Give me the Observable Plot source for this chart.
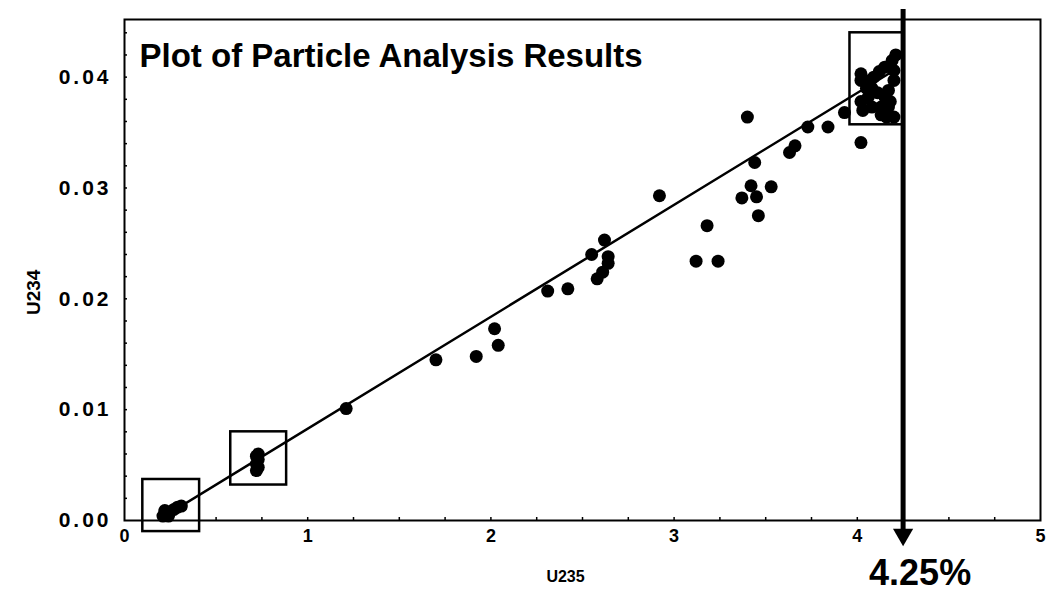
<!DOCTYPE html>
<html>
<head>
<meta charset="utf-8">
<script src="https://cdn.jsdelivr.net/npm/d3@7"></script>
<script src="https://cdn.jsdelivr.net/npm/@observablehq/plot@0.6"></script>
<style>
  html, body { margin: 0; padding: 0; background: #fff; }
  #chart svg { display: block; }
</style>
</head>
<body>
<div id="chart"></div>
<script>
// U235 (x) and U234 (y) values
const u235 = [
  0.21, 0.23, 0.22, 0.25, 0.27, 0.29, 0.31, 0.24,
  0.72, 0.73, 0.72, 0.73, 0.72, 0.73,
  1.21, 1.70, 1.92, 2.02, 2.04, 2.31, 2.42, 2.55, 2.62, 2.64, 2.64, 2.61, 2.58,
  2.92, 3.12, 3.24, 3.18, 3.37, 3.45, 3.46, 3.42, 3.53, 3.44, 3.40, 3.63, 3.66,
  3.73, 3.84, 3.93, 4.02,
  4.02, 4.02, 4.03, 4.13, 4.16, 4.21, 4.19, 4.15, 4.12, 4.09, 4.07, 4.08, 4.11,
  4.15, 4.17, 4.20, 4.20, 4.13, 4.17, 4.06, 4.02, 4.20, 4.08, 4.18, 4.05
];
const u234 = [
  0.0004, 0.0006, 0.0009, 0.0008, 0.0010, 0.0012, 0.0013, 0.0004,
  0.0058, 0.0055, 0.0051, 0.0048, 0.0045, 0.0060,
  0.0101, 0.0145, 0.0148, 0.0173, 0.0158, 0.0207, 0.0209, 0.0240, 0.0253, 0.0238, 0.0232, 0.0224, 0.0218,
  0.0293, 0.0234, 0.0234, 0.0266, 0.0291, 0.0292, 0.0275, 0.0302, 0.0301, 0.0323, 0.0364, 0.0332, 0.0338,
  0.0355, 0.0355, 0.0368, 0.0341,
  0.0403, 0.0397, 0.0370, 0.0366, 0.0364, 0.0420, 0.0415, 0.0409, 0.0405, 0.0400, 0.0397, 0.0390, 0.0386,
  0.0382, 0.0388, 0.0397, 0.0406, 0.0373, 0.0373, 0.0382, 0.0378, 0.0364, 0.0373, 0.0378, 0.0390
];
// Fitted line end points
const fitX = [0.2, 4.22];
const fitY = [0.0002, 0.0408];
// Highlight boxes
const boxX1 = [0.10, 0.58, 3.96];
const boxX2 = [0.41, 0.885, 4.25];
const boxY1 = [-0.0010, 0.0032, 0.0357];
const boxY2 = [0.0037, 0.0080, 0.0440];
// Enrichment marker
const markerX = [4.25];
const markerLabel = ["4.25%"];
// Ticks
const xTicks = [0, 1, 2, 3, 4, 5];
const yTicks = [0, 0.01, 0.02, 0.03, 0.04];
const xMinor = [0.25,0.5,0.75,1,1.25,1.5,1.75,2,2.25,2.5,2.75,3,3.25,3.5,3.75,4,4.25,4.5,4.75];
const yMinor = [0.002,0.004,0.006,0.008,0.010,0.012,0.014,0.016,0.018,0.020,0.022,0.024,0.026,0.028,0.030,0.032,0.034,0.036,0.038,0.040,0.042,0.044];
const titleText = ["Plot of Particle Analysis Results"];

const points = u235.map((x, i) => ({x, y: u234[i]}));
const fit = fitX.map((x, i) => ({x, y: fitY[i]}));
const boxes = boxX1.map((x1, i) => ({x1, x2: boxX2[i], y1: boxY1[i], y2: boxY2[i]}));

const font = "'Liberation Sans', Arial, sans-serif";

const chart = Plot.plot({
  width: 1048,
  height: 592,
  marginLeft: 124,
  marginRight: 8,
  marginTop: 19,
  marginBottom: 72,
  style: {fontFamily: font, color: "#000", background: "#fff"},
  x: {domain: [0, 5]},
  y: {domain: [0, 0.0452]},
  marks: [
    Plot.frame({stroke: "#000", strokeWidth: 2}),
    Plot.axisX({ticks: xMinor, tickSize: -3, text: null, label: null, strokeWidth: 1.5}),
    Plot.axisY({ticks: yMinor, tickSize: -3, text: null, label: null, strokeWidth: 1.5}),
    Plot.axisX({ticks: xTicks, tickSize: 0, tickPadding: 9, tickFormat: d3.format("d"), label: null,
      fontSize: 18, fontWeight: "bold"}),
    Plot.axisY({ticks: yTicks, tickSize: 0, tickPadding: 13, tickFormat: d3.format(".2f"), label: null,
      fontSize: 21, fontWeight: "bold"}),
    Plot.rect(boxes, {x1: "x1", x2: "x2", y1: "y1", y2: "y2", fill: "none", stroke: "#000", strokeWidth: 2.5}),
    Plot.line(fit, {x: "x", y: "y", stroke: "#000", strokeWidth: 2.5}),
    Plot.dot(points, {x: "x", y: "y", r: 6.5, fill: "#000", stroke: null}),
    Plot.ruleX(markerX, {x: d => d, stroke: "#000", strokeWidth: 5, insetTop: -10, insetBottom: -10}),
    Plot.dot(markerX, {x: d => d, frameAnchor: "bottom", dy: 14, symbol: "triangle", rotate: 180, r: 7.5, fill: "#000", stroke: null}),
    Plot.text(markerLabel, {x: markerX, text: d => d, frameAnchor: "bottom", dx: 17, dy: 64,
      fontSize: 36, fontWeight: "bold", fill: "#000"}),
    Plot.text(titleText, {text: d => d, frameAnchor: "top-left", textAnchor: "start", dx: 15, dy: 24,
      fontSize: 33, fontWeight: "bold", fill: "#000"}),
    Plot.text(["U235"], {text: d => d, frameAnchor: "bottom", dx: -17, dy: 61,
      fontSize: 16, fontWeight: "bold", fill: "#000"}),
    Plot.text(["U234"], {text: d => d, frameAnchor: "left", rotate: -90, dx: -91, dy: 45,
      fontSize: 19, fontWeight: "bold", fill: "#000"})
  ]
});
d3.select(chart).selectAll("text")
  .filter(function() { return /^0\.0\d$/.test(this.textContent); })
  .style("letter-spacing", "3px");
document.getElementById("chart").append(chart);
</script>
</body>
</html>
